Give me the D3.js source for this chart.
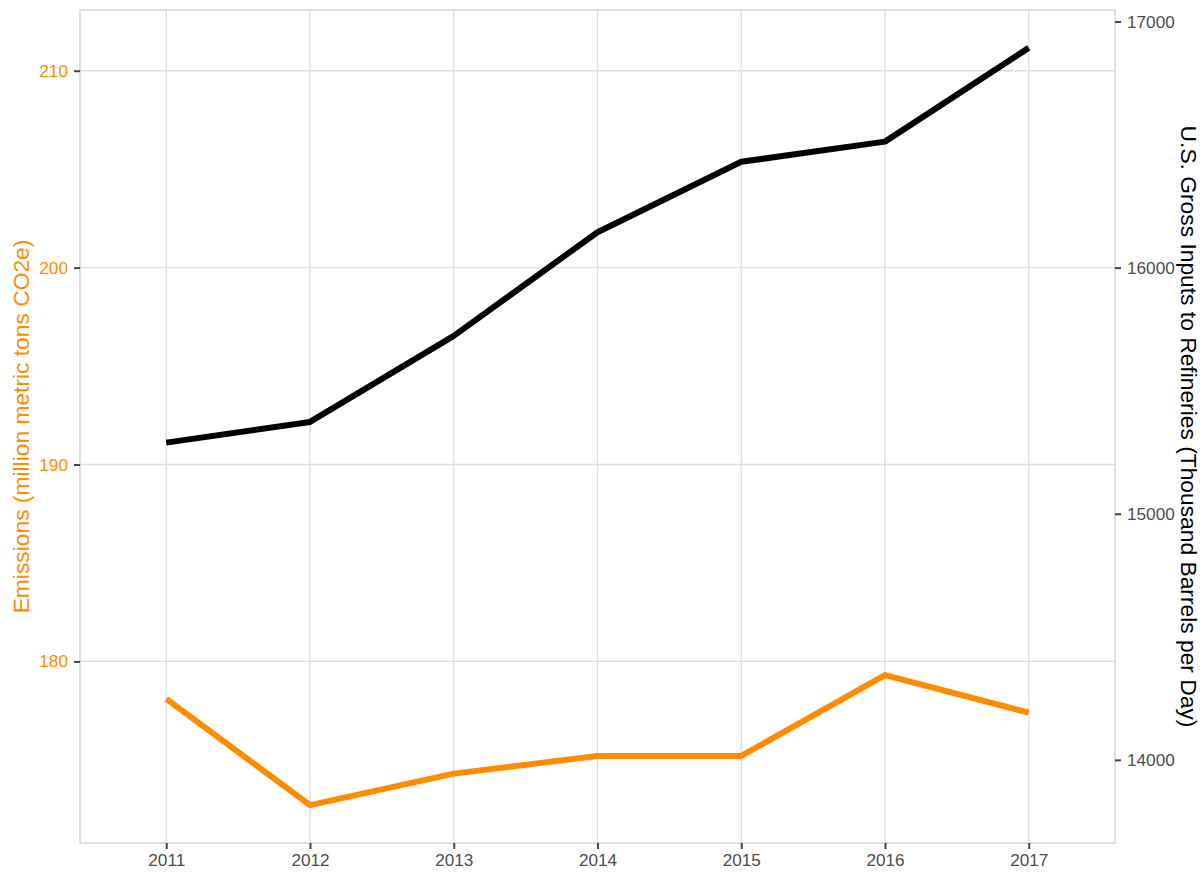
<!DOCTYPE html>
<html>
<head>
<meta charset="utf-8">
<script src="https://cdn.jsdelivr.net/npm/d3@7"></script>
<style>
  body { margin: 0; background: #fff; }
  svg { font-family: "Liberation Sans", Arial, sans-serif; }
</style>
</head>
<body>
<svg id="chart" width="1204" height="872"></svg>
<script>
// data
const years = [2011, 2012, 2013, 2014, 2015, 2016, 2017];
const emissions = [178.1, 172.7, 174.3, 175.2, 175.2, 179.3, 177.4];      // million metric tons CO2e
const grossInputs = [15289, 15373, 15723, 16144, 16430, 16512, 16893];    // thousand barrels per day
const leftTicks = [180, 190, 200, 210];
const rightTicks = [14000, 15000, 16000, 17000];
const secFactor = 80; // right axis = left axis * 80

const orange = "#FF8C00";
const width = 1204, height = 872;
const margin = {top: 10, right: 89, bottom: 29, left: 80};
const svg = d3.select("#chart");

const plotW = width - margin.left - margin.right;
const plotH = height - margin.top - margin.bottom;

// x scale: discrete years, 0.6 padding each side
const x = d3.scaleLinear()
    .domain([d3.min(years) - 0.6, d3.max(years) + 0.6])
    .range([0, plotW]);

// y scale: 5% expansion over both series (black one scaled down to left units)
const allVals = emissions.concat(grossInputs.map(v => v / secFactor));
const lo = d3.min(allVals), hi = d3.max(allVals);
const pad = (hi - lo) * 0.05;
const y = d3.scaleLinear()
    .domain([lo - pad, hi + pad])
    .range([plotH, 0]);
const y2 = d3.scaleLinear()
    .domain(y.domain().map(v => v * secFactor))
    .range([plotH, 0]);

const g = svg.append("g")
    .attr("transform", "translate(" + margin.left + "," + margin.top + ")");

// grid
g.append("g").selectAll("line")
    .data(leftTicks).enter().append("line")
    .attr("x1", 0).attr("x2", plotW)
    .attr("y1", d => y(d)).attr("y2", d => y(d))
    .attr("stroke", "#dedede").attr("stroke-width", 1.3);
g.append("g").selectAll("line")
    .data(years).enter().append("line")
    .attr("y1", 0).attr("y2", plotH)
    .attr("x1", d => x(d)).attr("x2", d => x(d))
    .attr("stroke", "#dedede").attr("stroke-width", 1.3);

// lines
g.append("path")
    .datum(grossInputs)
    .attr("d", d3.line().x((d, i) => x(years[i])).y(d => y2(d)))
    .attr("fill", "none").attr("stroke", "#000").attr("stroke-width", 6)
    .attr("stroke-linejoin", "round");
g.append("path")
    .datum(emissions)
    .attr("d", d3.line().x((d, i) => x(years[i])).y(d => y(d)))
    .attr("fill", "none").attr("stroke", orange).attr("stroke-width", 6)
    .attr("stroke-linejoin", "round");

// panel border
g.append("rect")
    .attr("x", 0).attr("y", 0).attr("width", plotW).attr("height", plotH)
    .attr("fill", "none").attr("stroke", "#cfcfcf").attr("stroke-width", 1.3);

// axes
function styleAxis(sel, textColor) {
    sel.select(".domain").remove();
    sel.selectAll(".tick line").attr("stroke", "#444").attr("stroke-width", 2);
    sel.selectAll(".tick text")
        .attr("fill", textColor)
        .style("font-size", "17.2px")
        .style("font-family", "'Liberation Sans', Arial, sans-serif");
}

const xAxis = d3.axisBottom(x).tickValues(years).tickFormat(d3.format("d"))
    .tickSize(6).tickPadding(5);
g.append("g").attr("transform", "translate(0," + plotH + ")")
    .call(xAxis).call(s => styleAxis(s, "#4d4d4d"));

const yAxis = d3.axisLeft(y).tickValues(leftTicks).tickSize(6).tickPadding(6);
g.append("g").call(yAxis).call(s => styleAxis(s, orange));

const y2Axis = d3.axisRight(y2).tickValues(rightTicks).tickFormat(d3.format("d"))
    .tickSize(6).tickPadding(6);
g.append("g").attr("transform", "translate(" + plotW + ",0)")
    .call(y2Axis).call(s => styleAxis(s, "#4d4d4d"));

// axis titles
svg.append("text")
    .attr("transform", "translate(28.5," + (margin.top + plotH / 2) + ") rotate(-90)")
    .attr("text-anchor", "middle")
    .attr("fill", orange)
    .style("font-size", "22.8px")
    .text("Emissions (million metric tons CO2e)");

svg.append("text")
    .attr("transform", "translate(1181," + (margin.top + plotH / 2) + ") rotate(90)")
    .attr("text-anchor", "middle")
    .attr("fill", "#000")
    .style("font-size", "22.8px")
    .text("U.S. Gross Inputs to Refineries (Thousand Barrels per Day)");
</script>
</body>
</html>
